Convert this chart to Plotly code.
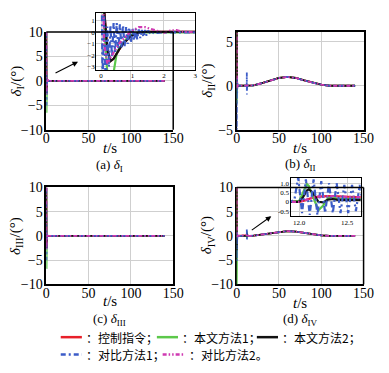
import plotly.graph_objects as go

# ---------------- data ----------------
# Panel (a) delta_I
T_A = [0, 0.1, 0.2, 0.3, 0.4, 0.5, 0.6, 0.7, 0.8, 0.9, 1.0, 1.2, 1.4, 1.6, 1.8, 2.0, 2.2, 2.4, 2.6, 2.8, 3.0, 5, 140]
A_RED = [10, 2.0, -1.5, -2.5, -2.3, -1.8, -1.4, -1.0, -0.7, -0.45, -0.25, -0.05, 0.05, 0.05, 0.02, 0, 0, 0, 0, 0, 0, 0, 0]
A_GREEN = [10, 0.5, -3.5, -6.5, -3.5, -1.8, -1.3, -0.9, -0.6, -0.35, -0.15, 0, 0, 0, 0, 0, 0, 0, 0, 0, 0, 0, 0]
A_BLACK = [10, 2.0, -1.5, -2.5, -2.3, -1.8, -1.4, -1.0, -0.7, -0.45, -0.25, -0.05, 0.05, 0.05, 0.02, 0, 0, 0, 0, 0, 0, 0, 0]
A_MAGENTA = [10, -1.0, -2.7, -2.2, -1.7, -1.3, -0.9, -0.6, -0.3, -0.05, 0.15, 0.45, 0.45, 0.3, 0.1, -0.05, 0.15, 0.2, 0.05, 0, 0, 0, 0]
T_A_BLUE = [0, 0.05, 0.1, 0.15, 0.2, 0.25, 0.3, 0.35, 0.4, 0.45, 0.5, 0.55, 0.6, 0.65, 0.7, 0.75,
            0.8, 0.85, 0.9, 0.95, 1.0, 1.05, 1.1, 1.15, 1.2, 1.25, 1.3, 1.35, 1.4, 1.45, 1.5,
            1.6, 1.7, 1.8, 2.0, 3.0, 140]
A_BLUE = [10, -4.5, 1.5, -5.0, 0.5, -3.0, 0.6, -2.2, 0.8, -1.8, 0.8, -1.5, 0.7, -1.3, 0.6, -1.2,
          0.5, -1.0, 0.4, -0.9, 0.35, -0.7, 0.3, -0.6, 0.25, -0.5, 0.2, -0.4, 0.2, -0.3, 0.15,
          -0.2, 0.1, -0.05, 0, 0, 0]

# Panel (b) delta_II
T_B = [0, 0.1, 0.3, 0.6, 1.0, 2.0, 5, 10, 15, 20, 30, 40, 50, 60, 70, 80, 90, 100, 110, 120, 130, 140]
B_RED = [10, 0.5, -0.3, 0.1, 0, 0, 0, 0, 0, 0.05, 0.3, 0.6, 0.88, 1.0, 0.88, 0.6, 0.35, 0.12, 0.0, -0.03, 0, 0]
B_GREEN = [10, -2.0, 0.5, -0.2, 0, 0, 0, 0, 0, 0.05, 0.3, 0.6, 0.88, 1.0, 0.88, 0.6, 0.35, 0.12, 0.0, -0.03, 0, 0]
B_BLACK = [10, 0.8, -0.4, 0.1, 0, 0, 0, 0, 0, 0.05, 0.3, 0.6, 0.88, 1.0, 0.88, 0.6, 0.35, 0.12, 0.0, -0.03, 0, 0]
B_MAGENTA = [10, 0.3, -0.3, 0.2, 0, 0, 0, 0, 0, 0.05, 0.3, 0.6, 0.88, 1.0, 0.88, 0.6, 0.35, 0.12, 0.0, -0.03, 0, 0]
T_B_BLUE = [0, 0.1, 0.3, 0.6, 1.0, 2.0, 5, 10, 11.9, 12.0, 12.05, 12.1, 12.15, 12.2, 12.25, 12.3, 12.4,
            15, 20, 30, 40, 50, 60, 70, 80, 90, 100, 110, 120, 130, 140]
B_BLUE = [0, -5.5, 1.0, -0.8, 0.3, 0, 0, 0, 0, 1.5, -1.0, 1.4, -0.9, 1.2, -0.8, 1.0, 0,
          0, 0.05, 0.3, 0.6, 0.88, 1.0, 0.88, 0.6, 0.35, 0.12, 0.0, -0.03, 0, 0]

# Panel (c) delta_III
T_C = [0, 0.1, 0.2, 0.3, 0.4, 0.5, 0.7, 1.0, 1.5, 2.0, 3.0, 140]
C_RED = [10, 2.0, -1.5, -2.5, -2.2, -1.8, -1.0, -0.25, 0.05, 0, 0, 0]
C_GREEN = [10, 0.5, -3.5, -6.8, -3.5, -1.8, -0.9, -0.15, 0, 0, 0, 0]
C_BLACK = [10, 2.0, -1.5, -2.5, -2.2, -1.8, -1.0, -0.25, 0.05, 0, 0, 0]
C_BLUE = [10, -5.0, 1.0, -3.0, 0.6, -2.0, 0.4, -0.7, 0.15, 0, 0, 0]
C_MAGENTA = [10, -1.0, -2.7, -2.2, -1.7, -1.3, -0.6, 0.15, 0.4, 0, 0, 0]

# Panel (d) delta_IV
T_D = [0, 0.1, 0.3, 0.6, 1.0, 2.0, 5, 10,
       11.91, 12.0, 12.04, 12.08, 12.1, 12.14, 12.2, 12.25, 12.3, 12.35, 12.4, 12.5, 12.6, 12.7,
       13, 15, 20, 30, 40, 50, 60, 70, 80, 90, 100, 110, 120, 130, 140]
D_RED = [10, 0.5, -0.3, 0.2, 0, 0, 0, 0,
         0, 0.0, 0.05, 0.12, 0.15, 0.22, 0.28, 0.3, 0.3, 0.3, 0.28, 0.27, 0.25, 0.22,
         0.05, 0, 0.05, 0.3, 0.6, 0.88, 1.0, 0.88, 0.6, 0.35, 0.12, 0.0, -0.03, 0, 0]
D_GREEN = [10, -10, 0.5, -0.3, 0, 0, 0, 0,
           0, 0.05, 0.5, 0.95, 0.85, 0.3, -0.45, -0.2, 0.2, 0.25, 0.15, 0.15, 0.15, 0.15,
           0.05, 0, 0.05, 0.3, 0.6, 0.88, 1.0, 0.88, 0.6, 0.35, 0.12, 0.0, -0.03, 0, 0]
D_BLACK = [10, -3.0, 0.5, -0.2, 0, 0, 0, 0,
           0, 0.0, 0.25, 0.6, 0.67, 0.5, 0.0, -0.03, 0.12, 0.15, 0.1, 0.1, 0.1, 0.1,
           0.05, 0, 0.05, 0.3, 0.6, 0.88, 1.0, 0.88, 0.6, 0.35, 0.12, 0.0, -0.03, 0, 0]
D_MAGENTA = [10, 0.5, -0.3, 0.2, 0, 0, 0, 0,
             0, 0.0, 0.05, 0.12, 0.15, 0.22, 0.28, 0.3, 0.3, 0.3, 0.28, 0.27, 0.25, 0.22,
             0.05, 0, 0.05, 0.3, 0.6, 0.88, 1.0, 0.88, 0.6, 0.35, 0.12, 0.0, -0.03, 0, 0]
T_D_BLUE = [0, 0.1, 0.3, 0.6, 1.0, 2.0, 5, 10,
            11.91, 11.95, 11.99, 12.03, 12.07, 12.11, 12.15, 12.19, 12.23, 12.27, 12.31, 12.35,
            12.39, 12.43, 12.47, 12.51, 12.55, 12.59, 12.63, 12.67,
            13, 15, 20, 30, 40, 50, 60, 70, 80, 90, 100, 110, 120, 130, 140]
D_BLUE = [0, -5.2, 1.0, -0.8, 0.3, 0, 0, 0,
          0, 0.1, 1.3, -0.6, 1.2, -0.7, 1.2, -0.7, 1.1, -0.6, 1.0, -0.6,
          1.0, -0.6, 0.9, -0.6, 0.9, -0.5, 0.9, -0.5,
          0.05, 0, 0.05, 0.3, 0.6, 0.88, 1.0, 0.88, 0.6, 0.35, 0.12, 0.0, -0.03, 0, 0]

MAIN_XTICKS = [0, 50, 100, 150]
MAIN_YTICKS_A = [-10, -5, 0, 5, 10]
MAIN_YTICKS_B = [-5, 0, 5]
INSET_A_XTICKS = [0, 1, 2, 3]
INSET_A_YTICKS = [-3, -2, -1, 0, 1]
INSET_D_XTICKS = [12.0, 12.5]
INSET_D_XTICKTEXT = ["12.0", "12.5"]
INSET_D_YTICKS = [-0.5, 0, 0.5, 1.0]
INSET_D_YTICKTEXT = ["-0.5", "0", "0.5", "1.0"]

LEGEND_LABELS = ["：控制指令；", "：本文方法1；", "：本文方法2；", "：对比方法1；", "：对比方法2。"]

# ---------------- styles ----------------
W, H = 389, 373
RED = "#e8202a"
GREEN = "#5cc84a"
BLACK = "#111111"
BLUE = "#3c5cc8"
MAGENTA = "#cf3ab2"
BLUE_DASH = "6px,3px,2px,3px"
MAG_DASH = "4px,2px,1.5px,2px,1.5px,2px"
SERIF = "Liberation Serif, Times New Roman, serif"
CJK = "Noto Sans CJK SC"
GRID = "#cfcfcf"


def fx(p):
    return p / W


def fy(p):
    return 1 - p / H


fig = go.Figure()


def add_series(xa, ya, series, width):
    for t, v, color, dash in series:
        fig.add_trace(go.Scatter(x=t, y=v, mode="lines", xaxis=xa, yaxis=ya,
                                 line=dict(color=color, width=width, dash=dash),
                                 showlegend=False, hoverinfo="skip"))


SER_A = [(T_A, A_RED, RED, "solid"), (T_A, A_GREEN, GREEN, "solid"), (T_A, A_BLACK, BLACK, "solid"),
         (T_A_BLUE, A_BLUE, BLUE, BLUE_DASH), (T_A, A_MAGENTA, MAGENTA, MAG_DASH)]
SER_B = [(T_B, B_RED, RED, "solid"), (T_B, B_GREEN, GREEN, "solid"), (T_B, B_BLACK, BLACK, "solid"),
         (T_B_BLUE, B_BLUE, BLUE, BLUE_DASH), (T_B, B_MAGENTA, MAGENTA, MAG_DASH)]
SER_C = [(T_C, C_RED, RED, "solid"), (T_C, C_GREEN, GREEN, "solid"), (T_C, C_BLACK, BLACK, "solid"),
         (T_C, C_BLUE, BLUE, BLUE_DASH), (T_C, C_MAGENTA, MAGENTA, MAG_DASH)]
SER_D = [(T_D, D_RED, RED, "solid"), (T_D, D_GREEN, GREEN, "solid"), (T_D, D_BLACK, BLACK, "solid"),
         (T_D_BLUE, D_BLUE, BLUE, BLUE_DASH), (T_D, D_MAGENTA, MAGENTA, MAG_DASH)]

add_series("x", "y", SER_A, 1.8)
add_series("x2", "y2", SER_B, 1.8)
add_series("x3", "y3", SER_C, 1.8)
add_series("x4", "y4", SER_D, 1.8)
add_series("x5", "y5", SER_A, 2.2)
add_series("x6", "y6", SER_D, 2.2)


def main_x(dom, mirror=True):
    return dict(domain=dom, range=[0, 150], tickvals=MAIN_XTICKS, showgrid=True, gridcolor=GRID,
                gridwidth=1, zeroline=False, showline=True, mirror=mirror, linecolor="black",
                linewidth=1.5, ticks="", ticklen=0, ticklabelstandoff=-5, layer="below traces",
                tickfont=dict(family=SERIF, size=14, color="black"))


def main_y(dom, rng, ticks, mirror=True):
    return dict(domain=dom, range=rng, tickvals=ticks, showgrid=True, gridcolor=GRID,
                gridwidth=1, zeroline=False, showline=True, mirror=mirror, linecolor="black",
                linewidth=1.5, ticks="", ticklen=0, ticklabelstandoff=-1, layer="below traces",
                tickfont=dict(family=SERIF, size=14, color="black"))


XL, XR = [fx(44), fx(176)], [fx(242), fx(374)]
YT, YB = [fy(128), fy(26)], [fy(289), fy(188)]

inset_font = dict(family=SERIF, size=7, color="black")
fig.update_layout(
    width=W, height=H, margin=dict(l=0, r=0, t=0, b=0),
    paper_bgcolor="white", plot_bgcolor="white", showlegend=False,
    xaxis=dict(main_x(XL, False), anchor="y"),
    yaxis=dict(main_y(YT, [-10, 10], MAIN_YTICKS_A, False), anchor="x"),
    xaxis2=dict(main_x(XR), anchor="y2"),
    yaxis2=dict(main_y(YT, [-5, 6.1], MAIN_YTICKS_B), anchor="x2"),
    xaxis3=dict(main_x(XL), anchor="y3"),
    yaxis3=dict(main_y(YB, [-10, 10], MAIN_YTICKS_A), anchor="x3"),
    xaxis4=dict(main_x(XR, False), anchor="y4"),
    yaxis4=dict(main_y(YB, [-10, 10], MAIN_YTICKS_A, False), anchor="x4"),
    xaxis5=dict(domain=[fx(96), fx(199)], range=[-0.15, 3.0], anchor="y5", tickvals=INSET_A_XTICKS,
                showgrid=True, gridcolor=GRID, zeroline=False, showline=True, mirror=True,
                linecolor="black", linewidth=1.2, ticks="", ticklen=0, ticklabelstandoff=-2,
                tickfont=inset_font),
    yaxis5=dict(domain=[fy(66), fy(6)], range=[-3.3, 1.7], anchor="x5", tickvals=INSET_A_YTICKS,
                showgrid=True, gridcolor=GRID, zeroline=False, showline=True, mirror=True,
                linecolor="black", linewidth=1.2, ticks="", ticklen=0, ticklabelstandoff=-1,
                tickfont=inset_font),
    xaxis6=dict(domain=[fx(298), fx(371)], range=[11.91, 12.64], anchor="y6", tickvals=INSET_D_XTICKS,
                ticktext=INSET_D_XTICKTEXT,
                showgrid=True, gridcolor=GRID, zeroline=False, showline=True, mirror=True,
                linecolor="black", linewidth=1.2, ticks="", ticklen=0, ticklabelstandoff=-1,
                tickfont=inset_font),
    yaxis6=dict(domain=[fy(218), fy(178)], range=[-0.77, 1.28], anchor="x6", tickvals=INSET_D_YTICKS,
                ticktext=INSET_D_YTICKTEXT,
                showgrid=True, gridcolor=GRID, zeroline=False, showline=True, mirror=True,
                linecolor="black", linewidth=1.2, ticks="", ticklen=0, ticklabelstandoff=-1,
                tickfont=inset_font),
)

shapes = []
# top and right edges of the main frames of (a) and (d), drawn over the insets
for xr, yr in [("x", "y"), ("x4", "y4")]:
    shapes.append(dict(type="line", xref=xr + " domain", yref=yr + " domain", x0=0, x1=1, y0=1, y1=1,
                       line=dict(color="black", width=1.5), layer="above"))
    shapes.append(dict(type="line", xref=xr + " domain", yref=yr + " domain", x0=1, x1=1, y0=0, y1=1,
                       line=dict(color="black", width=1.5), layer="above"))

# legend samples
LEG = [(59, 81, 344, RED, "solid"), (159, 181, 344, GREEN, "solid"), (263, 285, 344, BLACK, "solid"),
       (59, 81, 362, BLUE, "5px,3px,2px,3px"), (165, 188, 362, MAGENTA, "4px,2px,1.5px,2px,1.5px,2px")]
for x0, x1, y, c, d in LEG:
    shapes.append(dict(type="line", xref="paper", yref="paper", x0=fx(x0), x1=fx(x1), y0=fy(y), y1=fy(y),
                       line=dict(color=c, width=2.5, dash=d)))
fig.update_layout(shapes=shapes)

ann = []
LEG_TXT_X = [83, 183, 287, 83, 190]
LEG_TXT_Y = [344, 344, 344, 362, 362]
for lab, x, y in zip(LEGEND_LABELS, LEG_TXT_X, LEG_TXT_Y):
    ann.append(dict(text=lab, x=fx(x), y=fy(y), xref="paper", yref="paper", xanchor="left",
                    yanchor="middle", showarrow=False, font=dict(family=CJK, size=12, color="black")))

# axis titles
YTITLES = [("<i>δ</i><sub>I</sub>/(°)", 13, 77), ("<i>δ</i><sub>II</sub>/(°)", 212, 77),
           ("<i>δ</i><sub>III</sub>/(°)", 13, 238), ("<i>δ</i><sub>IV</sub>/(°)", 212, 238)]
for txt, x, y in YTITLES:
    ann.append(dict(text=txt, x=fx(x), y=fy(y), xref="paper", yref="paper", textangle=-90,
                    xanchor="center", yanchor="middle",
                    showarrow=False, font=dict(family=SERIF, size=15, color="black")))
XTITLES = [(110, 147), (308, 147), (110, 306), (308, 308)]
for x, y in XTITLES:
    ann.append(dict(text="<i>t</i>/s", x=fx(x), y=fy(y), xref="paper", yref="paper",
                    xanchor="center", yanchor="middle",
                    showarrow=False, font=dict(family=SERIF, size=15, color="black")))
SUBS = [("(a) <i>δ</i><sub>I</sub>", 110, 165), ("(b) <i>δ</i><sub>II</sub>", 308, 164),
        ("(c) <i>δ</i><sub>III</sub>", 110, 326), ("(d) <i>δ</i><sub>IV</sub>", 308, 326)]
for txt, x, y in SUBS:
    ann.append(dict(text=txt, x=fx(x), y=fy(y), xref="paper", yref="paper",
                    xanchor="center", yanchor="middle",
                    showarrow=False, font=dict(family=SERIF, size=13, color="black")))

# arrows pointing to insets
for (hx, hy, tx, ty) in [(77, 57, 53, 69), (278, 218, 257, 233)]:
    ann.append(dict(text="", x=fx(hx), y=fy(hy), xref="paper", yref="paper", ax=tx - hx, ay=ty - hy,
                    showarrow=True, arrowhead=2, arrowsize=1, arrowwidth=1.1, arrowcolor="black"))

fig.update_layout(annotations=ann)
fig.write_html("out.html", config={"displayModeBar": False},
               post_script="document.body.style.margin='0px';document.body.style.padding='0px';")
